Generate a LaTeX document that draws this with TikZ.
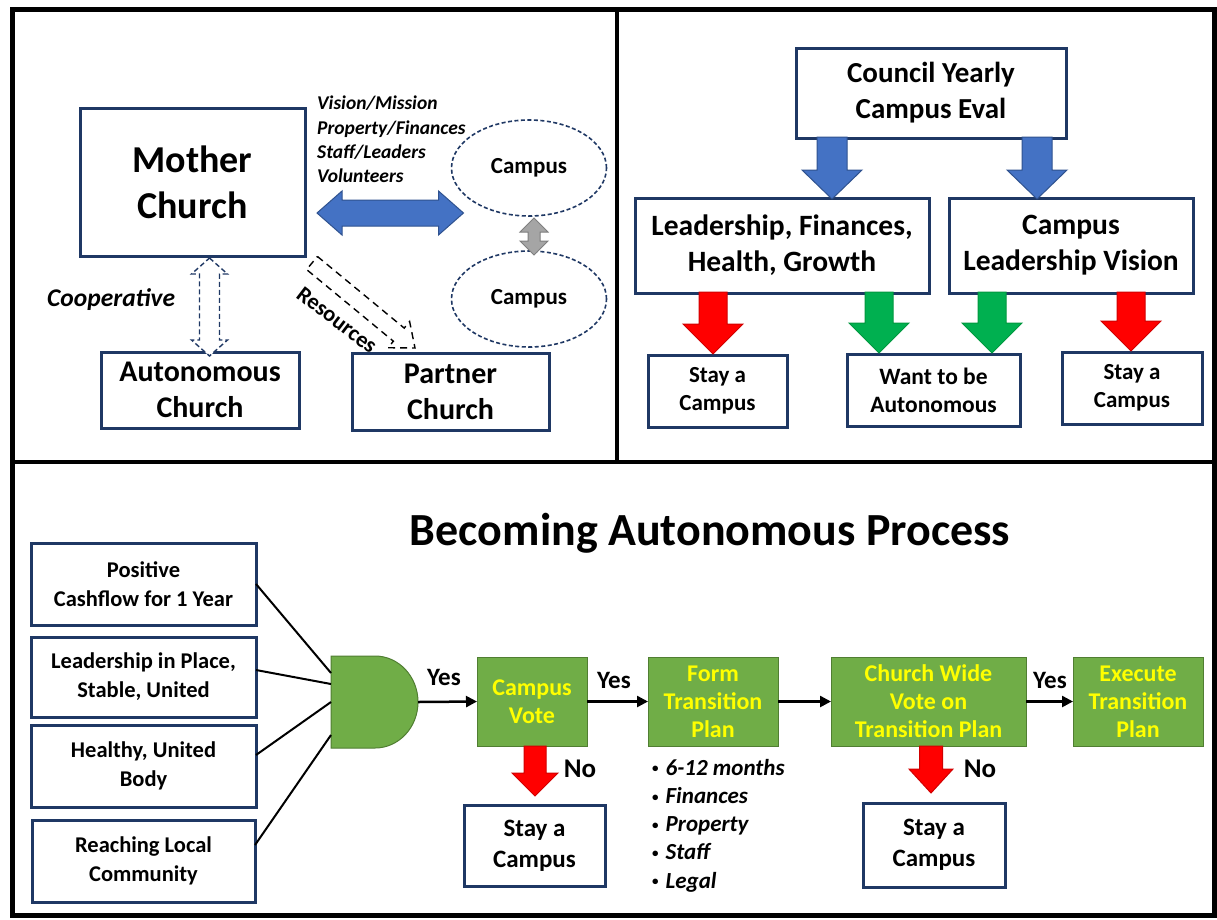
\documentclass[tikz,border=0pt]{standalone}
\usepackage{fontspec}
\setmainfont{Carlito}
\usetikzlibrary{calc,shapes.geometric,arrows.meta}
\definecolor{navy}{HTML}{1F3864}
\definecolor{bblue}{HTML}{4472C4}
\definecolor{bblueD}{HTML}{2F528F}
\definecolor{ggreen}{HTML}{00B050}
\definecolor{ggreenD}{HTML}{00983F}
\definecolor{rred}{HTML}{FF0000}
\definecolor{rredD}{HTML}{D00000}
\definecolor{ggray}{HTML}{A5A5A5}
\definecolor{ggrayD}{HTML}{7F7F7F}
\definecolor{lgreen}{HTML}{70AD47}
\definecolor{lgreenD}{HTML}{507E32}
\definecolor{yyellow}{HTML}{FFFF00}
\newcommand\fsz[2]{\fontsize{#1}{#2}\selectfont}
% single block arrow: style, from, to, shaft half width, head half width, head length
\newcommand\blockarrow[6]{%
  \path[#1] let \p1=#2, \p2=#3, \n1={atan2(\y2-\y1,\x2-\x1)}, \n2={veclen(\x2-\x1,\y2-\y1)} in
  [shift={(\p1)}, rotate=\n1] (0,#4) -- (\n2-#6,#4) -- (\n2-#6,#5) -- (\n2,0) -- (\n2-#6,-#5) -- (\n2-#6,-#4) -- (0,-#4) -- cycle;}
% double block arrow
\newcommand\dblarrow[6]{%
  \path[#1] let \p1=#2, \p2=#3, \n1={atan2(\y2-\y1,\x2-\x1)}, \n2={veclen(\x2-\x1,\y2-\y1)} in
  [shift={(\p1)}, rotate=\n1] (0,0) -- (#6,#5) -- (#6,#4) -- (\n2-#6,#4) -- (\n2-#6,#5) -- (\n2,0) -- (\n2-#6,-#5) -- (\n2-#6,-#4) -- (#6,-#4) -- (#6,-#5) -- cycle;}
\newcommand\bul{\raisebox{2.5pt}{\upshape\fsz{13}{13}•}\hspace{7pt}}
\begin{document}
\begin{tikzpicture}[x=1pt,y=1pt,
  box/.style={draw=navy, line width=3pt, fill=white, align=center, inner sep=0pt, outer sep=0pt, font=\bfseries},
  gbox/.style={draw=lgreenD, line width=1pt, fill=lgreen, text=yyellow, align=center, inner sep=0pt, outer sep=0pt, font=\bfseries\fsz{24}{28}},
  campus/.style={ellipse, draw=navy, dash pattern=on 4pt off 2.5pt, line width=1.6pt, minimum width=155pt, minimum height=96pt, inner sep=0pt, outer sep=0pt, font=\bfseries\fsz{23}{27}},
  lbl/.style={inner sep=0pt, font=\bfseries},
  conn/.style={line width=2.5pt, -{Triangle[length=11pt,width=11pt]}},
  wire/.style={line width=2pt},
  bluear/.style={fill=bblue, draw=bblueD, line width=1pt},
  grayar/.style={fill=ggray, draw=ggrayD, line width=1pt},
  greenar/.style={fill=ggreen, draw=ggreenD, line width=1pt},
  redar/.style={fill=rred, draw=rredD, line width=1pt},
  dashar/.style={fill=white, draw=navy, dash pattern=on 5pt off 3pt, line width=1.4pt},
  dashbk/.style={fill=white, draw=black, dash pattern=on 7pt off 5pt, line width=1.4pt}]
\useasboundingbox (0,0) rectangle (1217,-919);
\fill[white] (0,0) rectangle (1217,-919);

% frame
\draw[line width=5pt] (12,-9) rectangle (1214,-915);
\draw[line width=3.5pt] (617,-9) -- (617,-462);
\draw[line width=3.5pt] (12,-462) -- (1214,-462);

% ---------- top-left panel ----------
\node[box, minimum width=225pt, minimum height=148pt, font=\bfseries\fsz{38}{46}] (mother) at (192.5,-182) {Mother\\Church};
\node[campus] (camp1) at (529,-168) {Campus};
\node[campus] (camp2) at (529,-299) {Campus};
\node[box, minimum width=198pt, minimum height=76pt, font=\bfseries\fsz{30}{36}] (auto) at (200,-390) {Autonomous\\Church};
\node[box, minimum width=197pt, minimum height=77pt, font=\bfseries\fsz{30}{36}] (partner) at (450.5,-391.5) {Partner\\Church};
\node[lbl, anchor=north west, align=left, font=\bfseries\itshape\fsz{19.5}{24.3}] (vision) at (317,-96) {Vision/Mission\\Property/Finances\\Staff/Leaders\\Volunteers};
\node[lbl, anchor=base west, font=\bfseries\itshape\fsz{25.5}{30}] (coop) at (47,-306) {Cooperative};
\node[lbl, rotate=-37.5, font=\bfseries\fsz{22.5}{26}] (res) at (337,-320) {Resources};

\coordinate (bl1) at ($(mother.east)+(12,-31)$);
\coordinate (gr1) at ($(camp1.south)+(5,-2)$);
\coordinate (co1) at ($(mother.south)+(17,-2)$);
\dblarrow{bluear}{(bl1)}{($(camp1.west)+(12,-45)$)}{13}{22}{25}
\dblarrow{grayar}{(gr1)}{($(gr1 |- camp2.north)+(0,-4)$)}{6}{14}{14}
\dblarrow{dashar}{(co1)}{($(co1 |- auto.north)+(0,-4)$)}{10}{18}{16}
\blockarrow{dashbk}{($(mother.south east)+(7,-7)$)}{($(partner.north west)+(63,5)$)}{8.5}{17}{21}

% ---------- top-right panel ----------
\node[box, minimum width=270pt, minimum height=90pt, font=\bfseries\fsz{29}{36}] (council) at (931,-93) {Council Yearly\\Campus Eval};
\node[box, minimum width=294pt, minimum height=95pt, font=\bfseries\fsz{29.5}{36}] (lfhg) at (782,-245.5) {Leadership, Finances,\\Health, Growth};
\node[box, minimum width=244pt, minimum height=95pt, font=\bfseries\fsz{29.5}{36}] (clv) at (1071,-245.5) {Campus\\Leadership Vision};
\node[box, minimum width=139pt, minimum height=72pt, font=\bfseries\fsz{23}{28}] (stay1) at (717.5,-391) {Stay a\\Campus};
\node[box, minimum width=173pt, minimum height=72pt, font=\bfseries\fsz{23.5}{28}] (want) at (933.5,-390) {Want to be\\Autonomous};
\node[box, minimum width=140pt, minimum height=72pt, font=\bfseries\fsz{23}{28}] (stay2) at (1132,-388) {Stay a\\Campus};

\coordinate (ba1) at ($(council.south west)+(36,1)$);
\coordinate (ba2) at ($(council.south east)+(-29,1)$);
\coordinate (ra1) at ($(lfhg.south west)+(78,1)$);
\coordinate (ga1) at ($(lfhg.south east)+(-50,1)$);
\coordinate (ga2) at ($(clv.south west)+(43,1)$);
\coordinate (ra2) at ($(clv.south east)+(-62,1)$);
\blockarrow{bluear}{(ba1)}{($(ba1 |- lfhg.north)+(0,-1)$)}{15}{30}{29}
\blockarrow{bluear}{(ba2)}{($(ba2 |- clv.north)+(0,-1)$)}{15}{30}{29}
\blockarrow{redar}{(ra1)}{($(ra1 |- stay1.north)+(0,1)$)}{14}{30}{30}
\blockarrow{greenar}{(ga1)}{($(ga1 |- want.north)+(0,1)$)}{14}{30}{30}
\blockarrow{greenar}{(ga2)}{($(ga2 |- want.north)+(0,1)$)}{14}{30}{30}
\blockarrow{redar}{(ra2)}{($(ra2 |- stay2.north)+(0,1)$)}{14}{30}{30}

% ---------- bottom panel ----------
\node[lbl, font=\bfseries\fsz{46}{54}] (title) at (710,-533) {Becoming Autonomous Process};
\node[box, minimum width=225pt, minimum height=82pt, font=\bfseries\fsz{22.5}{29}] (pos) at (143.5,-584) {Positive\\Cashflow for 1 Year};
\node[box, minimum width=225pt, minimum height=80pt, font=\bfseries\fsz{22.5}{29}] (lead) at (143.5,-677) {Leadership in Place,\\Stable, United};
\node[box, minimum width=225pt, minimum height=82pt, font=\bfseries\fsz{22.5}{29}] (healthy) at (143.5,-766) {Healthy, United\\Body};
\node[box, minimum width=223pt, minimum height=82pt, font=\bfseries\fsz{22.5}{29}] (reach) at (143.5,-861) {Reaching Local\\Community};

% AND gate
\draw[fill=lgreen, draw=lgreenD, line width=1pt] (331,-656) -- (375,-656) arc[start angle=90, end angle=-90, x radius=43, y radius=46] -- (331,-748) -- cycle;
\coordinate (gin1) at (331,-673);
\coordinate (gin2) at (331,-684);
\coordinate (gin3) at (331,-702);
\coordinate (gin4) at (331,-735);
\coordinate (gout) at (418,-702);

\draw[wire] (pos.east) -- (gin1);
\draw[wire] ([yshift=7pt]lead.east) -- (gin2);
\draw[wire] ([yshift=11pt]healthy.east) -- (gin3);
\draw[wire] ([yshift=16pt]reach.east) -- (gin4);

\node[gbox, minimum width=110pt, minimum height=89pt] (cvote) at (532,-701.5) {Campus\\Vote};
\node[gbox, minimum width=130pt, minimum height=89pt] (form) at (713,-701.5) {Form\\Transition\\Plan};
\node[gbox, minimum width=195pt, minimum height=89pt] (cwv) at (928.5,-701.5) {Church Wide\\Vote on\\Transition Plan};
\node[gbox, minimum width=130pt, minimum height=89pt] (exec) at (1138,-701.5) {Execute\\Transition\\Plan};
\node[box, minimum width=141pt, minimum height=81pt, font=\bfseries\fsz{25}{31}] (stay3) at (534.5,-845.5) {Stay a\\Campus};
\node[box, minimum width=142pt, minimum height=84pt, font=\bfseries\fsz{25}{31}] (stay4) at (934,-845) {Stay a\\Campus};

\draw[conn] (gout) -- (cvote.west);
\draw[conn] (cvote.east) -- (form.west);
\draw[conn] (form.east) -- (cwv.west);
\draw[conn] (cwv.east) -- (exec.west);

\node[lbl, font=\bfseries\fsz{25}{28}] (yes1) at (444,-677) {Yes};
\node[lbl, font=\bfseries\fsz{25}{28}] (yes2) at (614,-680) {Yes};
\node[lbl, font=\bfseries\fsz{25}{28}] (yes3) at (1050,-680) {Yes};

\coordinate (rb1) at ([xshift=3pt]cvote.south);
\coordinate (rb2) at ([xshift=2.5pt]cwv.south);
\blockarrow{redar}{(rb1)}{($(rb1 |- stay3.north)+(0,9)$)}{11}{23}{23}
\blockarrow{redar}{(rb2)}{($(rb2 |- stay4.north)+(0,10)$)}{11.5}{22}{24}
\node[lbl, font=\bfseries\fsz{27}{30}] (no1) at (580,-769) {No};
\node[lbl, font=\bfseries\fsz{27}{30}] (no2) at (980,-769) {No};

\node[lbl, anchor=north west, align=left, font=\bfseries\itshape\fsz{23}{28.2}] (bul) at (652,-759) {\bul 6-12 months\\\bul Finances\\\bul Property\\\bul Staff\\\bul Legal};
\end{tikzpicture}
\end{document}
